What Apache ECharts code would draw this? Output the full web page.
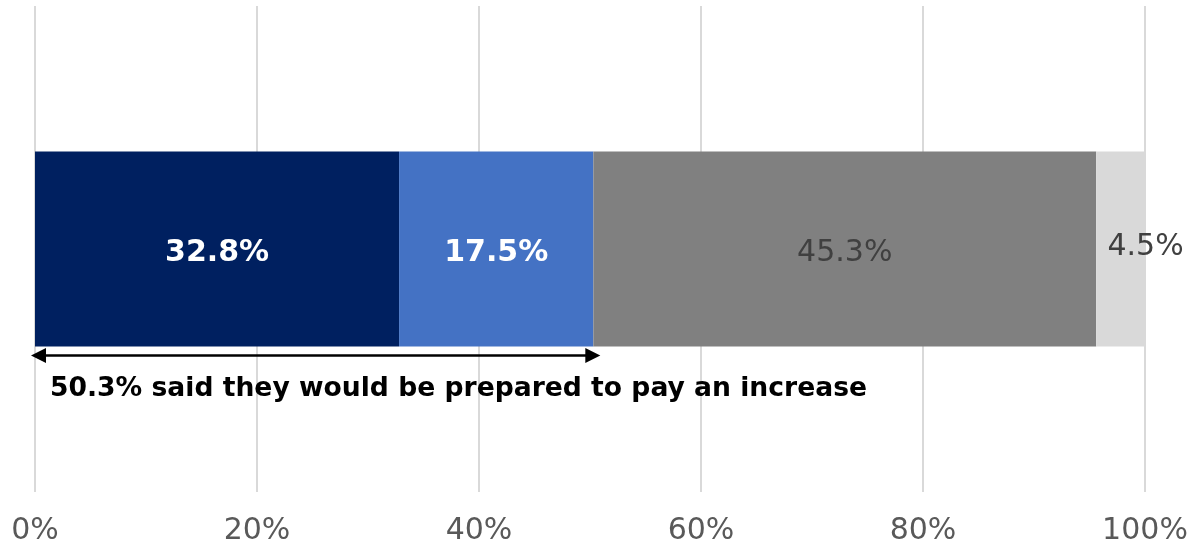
<!DOCTYPE html>
<html><head><meta charset="utf-8">
<script src="https://cdn.jsdelivr.net/npm/echarts@6/dist/echarts.min.js"></script>
<style>html,body{margin:0;padding:0;background:#fff}#c{width:1191px;height:546px}</style>
</head><body><div id="c"></div>
<script>
const categories = ['Respondents'];
const seriesNames = ['Yes, a lot', 'Yes, a little', 'No', "Don't know"];
const seriesValues = [[32.8], [17.5], [45.3], [4.5]];
const seriesColors = ['#002060', '#4472C4', '#808080', '#D9D9D9'];
const tickLabels = ['0%', '20%', '40%', '60%', '80%', '100%'];
const annotationValue = 50.3;
const annotationText = '50.3% said they would be prepared to pay an increase';

const font = 'DejaVu Sans, Verdana, sans-serif';
const chart = echarts.init(document.getElementById('c'));
const labelStyles = [
  {color:'#fff', fontWeight:'bold', offset:[0,4]},
  {color:'#fff', fontWeight:'bold', offset:[0,4]},
  {color:'#404040', fontWeight:'normal', offset:[0,4]},
  {color:'#404040', fontWeight:'normal', offset:[25,-2]}
];
chart.setOption({
  animation:false,
  grid:{left:35, right:46, top:6, bottom:53},
  xAxis:{type:'value', min:0, max:100, interval:20,
    axisLine:{show:false}, axisTick:{show:false},
    splitLine:{lineStyle:{color:'#d9d9d9', width:2}},
    axisLabel:{fontFamily:font, fontSize:30, color:'#595959', margin:24,
      formatter:(v)=>tickLabels[Math.round(v/20)]}},
  yAxis:{type:'category', data:categories, show:false},
  series: seriesNames.map((n,i)=>({
    name:n, type:'bar', stack:'total', barWidth:195,
    data:seriesValues[i],
    itemStyle:{color:seriesColors[i]},
    label:Object.assign({show:true, position:'inside', fontFamily:font, fontSize:30,
      formatter:(p)=>p.value.toFixed(1)+'%'}, labelStyles[i])
  }))
});
const x0 = chart.convertToPixel({xAxisIndex:0}, 0);
const x1 = chart.convertToPixel({xAxisIndex:0}, annotationValue);
const yc = chart.convertToPixel({yAxisIndex:0}, 0);
const ya = yc + 97.5 + 9;
chart.setOption({graphic:[
  {type:'line', shape:{x1:x0+4, y1:ya, x2:x1-4, y2:ya}, style:{stroke:'#000', lineWidth:2.5}},
  {type:'polygon', shape:{points:[[x0-4,ya],[x0+11,ya-7.5],[x0+11,ya+7.5]]}, style:{fill:'#000'}},
  {type:'polygon', shape:{points:[[x1+7,ya],[x1-8,ya-7.5],[x1-8,ya+7.5]]}, style:{fill:'#000'}},
  {type:'text', x:x0+15, y:ya+34, style:{text:annotationText, font:'bold 26.6px '+font, fill:'#000', textVerticalAlign:'middle'}}
]});
</script></body></html>
